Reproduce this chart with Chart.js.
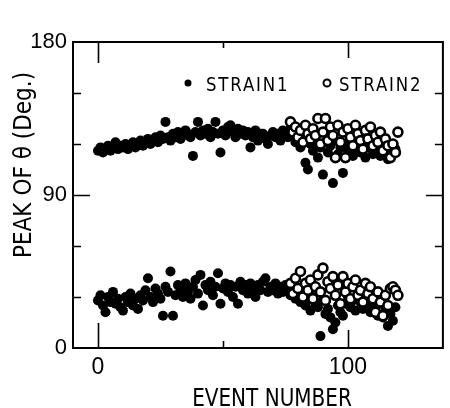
<!DOCTYPE html>
<html>
<head>
<meta charset="utf-8">
<script src="https://cdn.jsdelivr.net/npm/chart.js@4.4.1/dist/chart.umd.min.js"></script>
<style>
  html, body { margin: 0; padding: 0; background: #fff; overflow: hidden; }
  #wrap { width: 450px; height: 408px; }
</style>
</head>
<body>
<div id="wrap"><canvas id="peakChart" width="450" height="408"></canvas></div>
<script>
/* Peak of theta vs event number, two strain gauges */

// ── Data ─────────────────────────────────────────────────────────────────────

const strain1Events = [
  0, 1, 2, 3, 4, 5, 6, 7, 8, 9, 10, 11, 12, 13, 14, 15, 16, 17, 18, 19,
  20, 21, 22, 23, 24, 25, 26, 27, 28, 29, 30, 31, 32, 33, 34, 35, 36, 37, 38, 39,
  40, 41, 42, 43, 44, 45, 46, 47, 48, 49, 50, 51, 52, 53, 54, 55, 56, 57, 58, 59,
  60, 61, 62, 63, 64, 65, 66, 67, 68, 69, 70, 71, 72, 73, 74, 75, 76, 77, 78, 79,
  80, 81, 82, 83, 84, 85, 86, 87, 88, 89, 90, 91, 92, 93, 94, 95, 96, 97, 98, 99,
  100, 101, 102, 103, 104, 105, 106, 107, 108, 109, 110, 111, 112, 113, 114, 115, 116, 117, 118, 119
];
const strain1Upper = [
  116, 118, 115, 117, 119, 116, 118, 121, 117, 119,
  118, 120, 117, 119, 121, 118, 120, 122, 119, 121,
  123, 120, 122, 124, 121, 125, 123, 133, 124, 122,
  126, 124, 127, 123, 125, 128, 126, 124, 113, 127,
  133, 125, 128, 126, 129, 124, 127, 133, 126, 115,
  128, 125, 130, 131, 127, 124, 129, 126, 128, 125,
  127, 118, 124, 128, 122, 126, 126, 123, 120, 125,
  127, 124, 126, 122, 128, 125, 124, 129, 131, 121,
  126, 118, 123, 109, 105, 120, 116, 124, 112, 118,
  102, 121, 115, 119, 97, 122, 114, 118, 103, 120,
  116, 121, 113, 119, 117, 115, 122, 112, 118, 120,
  114, 117, 121, 113, 116, 119, 111, 118, 115, 117
];
const strain1Lower = [
  28, 31, 25, 21, 30, 27, 33, 26, 29, 24,
  22, 30, 27, 32, 25, 29, 23, 31, 28, 34,
  41, 30, 27, 35, 32, 29, 19, 36, 33, 45,
  19, 31, 37, 34, 30, 38, 33, 29, 36, 40,
  32, 43, 25, 37, 34, 39, 31, 36, 44, 26,
  35, 38, 33, 37, 30, 36, 26, 39, 34, 37,
  32, 38, 35, 30, 37, 34, 39, 41, 33, 36,
  34, 38, 32, 36, 33, 37, 35, 31, 34, 29,
  33, 27, 31, 25, 29, 22, 30, 26, 24, 7,
  28, 20, 23, 18, 11, 15, 25, 21, 19, 26,
  30, 24, 28, 22, 31, 27, 23, 29, 25, 21,
  28, 24, 19, 26, 18, 22, 13, 20, 16, 24
];

const strain2Events = [
  77, 78, 79, 80, 81, 82, 83, 84, 85, 86, 87, 88, 89, 90, 91, 92, 93, 94, 95, 96, 97, 98,
  99, 100, 101, 102, 103, 104, 105, 106, 107, 108, 109, 110, 111, 112, 113, 114, 115, 116, 117, 118, 119, 120
];
const strain2Upper = [
  133, 127, 130, 124, 128, 121, 131, 126, 123, 129, 125, 135, 120, 127, 135, 122, 130, 125, 112, 131, 121, 127,
  112, 129, 124, 119, 131, 126, 122, 117, 128, 123, 130, 119, 125, 121, 127, 116, 123, 119, 112, 120, 115, 127
];
const strain2Lower = [
  38, 32, 41, 35, 45, 30, 38, 34, 40, 29, 36, 43, 33, 47, 28, 39, 35, 42, 31, 37, 26, 42,
  33, 38, 29, 36, 40, 31, 34, 27, 38, 32, 36, 29, 21, 33, 27, 19, 31, 25, 35, 36, 34, 31
];

const seriesLabels = ['STRAIN1', 'STRAIN2'];

const xTickValues = [0, 50, 100];
const xTickLabels = [0, 100];
const yTickValues = [0, 30, 60, 90, 120, 150, 180];
const yTickLabels = [0, 90, 180];

const xTitle = 'EVENT NUMBER';
const yTitle = 'PEAK OF θ (Deg.)';

// ── Styling ──────────────────────────────────────────────────────────────────

const INK = '#000';
const TICK_FONT = '"Liberation Sans", Arial, sans-serif';
const NARROW_FONT = '"DejaVu Sans Condensed", sans-serif';

// inward tick lengths, same order as the tick value lists
const X_BOTTOM_LEN = [25, 7, 18];
const X_TOP_LEN = [21, 6, 16];
const Y_MAJOR_LEN = 17;
const Y_MINOR_LEN = 8;

function toPoints(xs, ys) {
  return xs.map((x, i) => ({ x, y: ys[i] }));
}

// squeezed text, the condensed face is still a bit too wide
function narrowText(ctx, text, x, y, squeeze) {
  ctx.save();
  ctx.translate(x, y);
  ctx.scale(squeeze, 1);
  ctx.fillText(text, 0, 0);
  ctx.restore();
}

// frame, inward ticks, axis titles and the in-plot key
const framePlugin = {
  id: 'frame',
  afterDraw(chart) {
    const { ctx, chartArea: a, scales } = chart;
    const xs = scales.x, ys = scales.y;
    ctx.save();
    ctx.strokeStyle = INK;
    ctx.fillStyle = INK;

    ctx.lineWidth = 2;
    ctx.strokeRect(a.left, a.top, a.right - a.left, a.bottom - a.top);

    ctx.lineWidth = 1.6;
    ctx.beginPath();
    xTickValues.forEach((v, i) => {
      const px = Math.round(xs.getPixelForValue(v)) + 0.5;
      ctx.moveTo(px, a.bottom);
      ctx.lineTo(px, a.bottom - X_BOTTOM_LEN[i]);
      ctx.moveTo(px, a.top);
      ctx.lineTo(px, a.top + X_TOP_LEN[i]);
    });
    yTickValues.forEach(v => {
      if (v === ys.min || v === ys.max) return;
      const py = Math.round(ys.getPixelForValue(v)) + 0.5;
      const len = yTickLabels.includes(v) ? Y_MAJOR_LEN : Y_MINOR_LEN;
      ctx.moveTo(a.left, py);
      ctx.lineTo(a.left + len, py);
      ctx.moveTo(a.right, py);
      ctx.lineTo(a.right - len, py);
    });
    ctx.stroke();

    // axis titles
    ctx.font = '25px ' + NARROW_FONT;
    ctx.textAlign = 'center';
    ctx.textBaseline = 'alphabetic';
    narrowText(ctx, xTitle, 272, 406, 0.89);

    ctx.save();
    ctx.translate(31, 165);
    ctx.rotate(-Math.PI / 2);
    narrowText(ctx, yTitle, 0, 0, 0.96);
    ctx.restore();

    // key
    ctx.font = '20px ' + NARROW_FONT;
    ctx.textAlign = 'left';
    ctx.letterSpacing = '2px';
    ctx.beginPath();
    ctx.arc(188, 83, 3.5, 0, Math.PI * 2);
    ctx.fill();
    narrowText(ctx, seriesLabels[0], 206, 91, 0.92);

    ctx.lineWidth = 2;
    ctx.beginPath();
    ctx.arc(327, 83, 3.5, 0, Math.PI * 2);
    ctx.stroke();
    narrowText(ctx, seriesLabels[1], 339, 91, 0.92);
    ctx.restore();
  }
};

new Chart(document.getElementById('peakChart'), {
  type: 'scatter',
  data: {
    datasets: [
      {
        label: seriesLabels[0],
        data: toPoints(strain1Events, strain1Upper).concat(toPoints(strain1Events, strain1Lower)),
        pointRadius: 5,
        pointBackgroundColor: INK,
        pointBorderWidth: 0,
        order: 1,
      },
      {
        label: seriesLabels[1],
        data: toPoints(strain2Events, strain2Upper).concat(toPoints(strain2Events, strain2Lower)),
        pointRadius: 4.5,
        pointBackgroundColor: '#fff',
        pointBorderColor: INK,
        pointBorderWidth: 2.6,
        order: 0,
      },
    ],
  },
  options: {
    responsive: false,
    animation: false,
    layout: { padding: { top: 42, right: 1, left: 0, bottom: 0 } },
    plugins: {
      legend: { display: false },
      tooltip: { enabled: false },
    },
    scales: {
      x: {
        type: 'linear',
        min: -10,
        max: 138,
        grid: { display: false, drawTicks: false },
        border: { display: false },
        afterBuildTicks: s => { s.ticks = xTickValues.map(v => ({ value: v })); },
        afterFit: s => { s.height = 60; },
        ticks: {
          color: INK,
          padding: 6,
          maxRotation: 0,
          autoSkip: false,
          font: { family: TICK_FONT, size: 23 },
          callback: v => xTickLabels.includes(v) ? String(v) : '',
        },
      },
      y: {
        min: 0,
        max: 180,
        grid: { display: false, drawTicks: false },
        border: { display: false },
        afterBuildTicks: s => { s.ticks = yTickValues.map(v => ({ value: v })); },
        afterFit: s => { s.width = 73; },
        ticks: {
          color: INK,
          padding: 6,
          autoSkip: false,
          font: { family: TICK_FONT, size: 22 },
          callback: v => yTickLabels.includes(v) ? String(v) : '',
        },
      },
    },
  },
  plugins: [framePlugin],
});
</script>
</body>
</html>
